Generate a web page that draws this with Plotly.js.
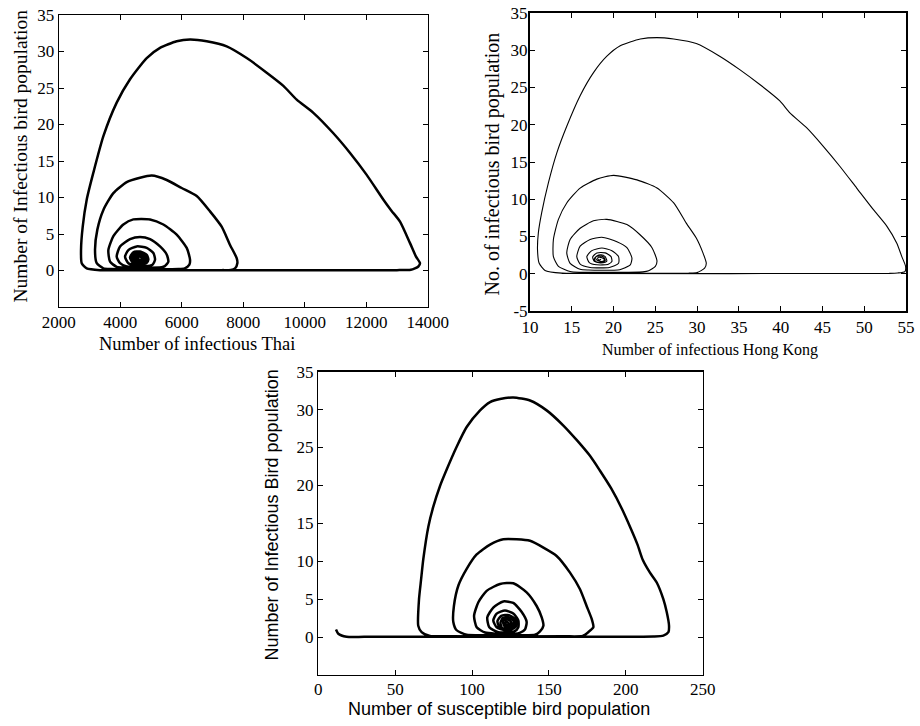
<!DOCTYPE html>
<html>
<head>
<meta charset="utf-8">
<script src="https://cdn.plot.ly/plotly-3.0.1.min.js"></script>
<style>html,body{margin:0;padding:0;background:#fff;}#chart{width:920px;height:726px;}</style>
</head>
<body>
<div id="chart"></div>
<script>
// ---- Data ----
// Panel 1: infectious Thai (x) vs infectious bird population (y)
var thaiX = [3300,3600,13000,13450,13697,13750,13620,13425,13100,12820,12560,12016,11475,10932,10282,9740,9306,8764,8114,7463,6813,6271,5837,5295,4862,4320,3886,3453,3127,2911,2781,2726,2748,2911,3344,3600,7300,7600,
  7734,7810,7788,7572,7300,6921,6488,6000,5512,5024,4645,4211,3778,3453,3257,3181,3236,3453,3700,5900,6100,
  6250,6271,6163,5837,5403,4970,4428,4103,3778,3615,3670,3886,4100,5350,5450,
  5566,5512,5295,4970,4645,4320,3995,3886,3995,4211,4400,5050,
  5133,5079,4862,4537,4266,4157,4266,4537,4850,
  4916,4862,4645,4428,4320,4400,4645,4780,
  4860,4800,4620,4440,4370,4430,4620,4760,
  4800,4740,4580,4460,4420,4480,4640,4740,
  4730,4680,4560,4490,4480,4540,4660,4700,4640,4560,4530,4580,4620];
var thaiY = [0.05,0.04,0.05,0.1,0.55,1.0,1.9,3.75,6.7,8.2,9.7,13.1,16.1,18.8,21.6,23.4,25.3,27.1,29.1,30.7,31.4,31.65,31.4,30.5,29.1,26.2,23.0,18.4,13.4,9.7,6.0,2.8,1.0,0.3,0.05,0.04,0.05,0.08,
  0.3,1.0,1.7,3.5,6.0,8.1,10.2,11.3,12.4,13.0,12.7,12.1,10.6,8.3,5.6,2.8,1.0,0.3,0.2,0.2,0.3,
  0.8,1.5,3.1,4.9,6.3,7.0,7.0,6.3,4.7,2.8,1.2,0.5,0.4,0.45,0.6,
  1.2,2.2,3.3,4.3,4.6,4.3,3.3,1.9,1.0,0.55,0.5,0.8,
  1.5,2.4,3.1,3.3,2.8,1.9,1.0,0.65,1.0,
  1.5,2.15,2.6,2.5,1.8,1.1,0.9,1.2,
  1.6,2.2,2.5,2.4,1.8,1.2,1.0,1.3,
  1.7,2.1,2.35,2.25,1.8,1.35,1.2,1.4,
  1.75,2.05,2.2,2.1,1.75,1.45,1.4,1.6,1.9,1.95,1.75,1.6,1.7];

// Panel 2: infectious Hong Kong (x) vs infectious bird population (y)
var hkX = [13.8,15.0,53.0,54.0,54.87,54.95,54.5,53.9,52.7,51.1,49.1,47.1,45.1,43.1,41.1,39.9,37.5,35.1,32.7,29.9,27.2,25.2,23.2,20.8,19.2,17.6,16.0,14.4,13.2,12.2,11.4,11.0,10.9,11.1,11.8,13.8,15.0,29.0,30.0,
  30.9,31.1,30.7,29.9,28.7,27.2,25.2,22.8,20.0,18.0,16.0,14.4,13.4,12.8,12.8,13.4,14.8,16.0,23.5,24.2,
  25.0,25.2,24.6,23.2,21.6,19.2,17.6,16.0,14.8,14.4,14.8,16.0,17.0,20.5,21.0,
  22.0,22.2,21.6,20.4,18.6,17.2,16.0,15.6,16.0,17.2,19.5,
  20.6,20.6,19.8,18.6,17.4,16.8,17.1,18.0,19.3,
  19.8,19.7,19.0,18.0,17.5,17.7,18.4,19.0,
  19.2,19.0,18.5,18.0,17.7,17.9,18.6,19.0,
  19.0,18.8,18.3,17.9,17.9,18.3,18.8,18.9,18.6,18.2,18.1,18.3,18.5];
var hkY = [0.05,0.04,0.05,0.1,0.3,1.0,2.3,4.1,6.4,8.6,11.5,14.4,17.1,19.6,21.6,23.2,25.4,27.4,29.2,30.9,31.5,31.7,31.5,30.6,29.2,27.0,23.9,19.8,16.2,12.2,8.2,5.5,3.2,1.4,0.45,0.08,0.06,0.08,0.15,
  0.75,1.4,2.8,4.8,6.8,9.5,11.5,12.6,13.2,12.7,11.5,9.5,7.3,4.6,2.3,1.0,0.3,0.2,0.25,0.4,
  1.0,1.7,3.5,5.2,6.6,7.3,7.1,6.1,4.6,2.8,1.4,0.6,0.5,0.5,0.65,
  1.2,2.1,3.5,4.3,4.9,4.6,3.7,2.3,1.3,0.85,0.85,
  1.4,2.3,3.1,3.45,3.1,2.3,1.5,1.2,1.25,
  1.65,2.3,2.8,2.8,2.25,1.65,1.45,1.55,
  1.7,2.3,2.55,2.4,2.0,1.6,1.55,1.75,
  1.85,2.25,2.4,2.3,1.95,1.7,1.7,1.9,2.15,2.2,2.0,1.85,1.95];

// Panel 3: susceptible bird population (x) vs infectious bird population (y)
var suscX = [11.5,13.0,18.4,30,205,218,224.4,227.7,228.1,226.6,224.4,220.1,215.7,211.0,207.6,203.5,197.5,190.5,183.0,176.7,168.0,159.4,148.5,137.7,126.8,118.2,111.7,105.2,96.5,90.0,83.5,79.1,74.8,71.6,68.3,66.8,65.5,65.0,67.2,72.6,85,160,172,
  175.6,178.9,177.8,174.5,170.2,163.7,155.0,146.4,137.7,129.0,120.3,111.7,103.0,96.5,91.1,88.2,87.8,90.0,96.5,105,135,141,
  144.2,146.4,145.3,142.0,135.5,126.8,118.2,109.5,104.1,101.3,103.0,108.4,115,128,131,
  134.4,135.5,132.3,126.8,120.3,113.8,109.9,111.2,117.1,127.5,
  130.1,130.1,126.8,121.4,116.0,113.8,116.0,121.4,125.5,
  128.5,128.3,124.0,119.0,116.5,118.0,122.0,126.0,
  127.0,126.8,123.5,120.0,118.5,119.5,123.0,125.5,
  125.8,125.0,122.8,120.8,120.3,121.5,123.8,124.8,123.5,122.0,121.8,122.8,123.6];
var suscY = [1.0,0.45,0.05,0.03,0.05,0.08,0.2,0.65,1.5,3.3,5.0,7.2,8.5,10.2,12.2,14.2,16.9,19.6,22.0,23.9,26.0,27.9,29.9,31.2,31.6,31.4,31.0,29.9,27.7,25.1,22.1,19.9,17.2,14.6,10.3,7.5,5.0,1.5,0.65,0.15,0.1,0.1,0.15,
  0.65,1.3,2.4,4.1,6.3,8.5,10.7,11.8,12.7,12.9,12.9,12.2,10.9,9.0,6.8,4.1,2.0,0.9,0.3,0.25,0.25,0.3,
  0.75,1.5,2.6,4.1,5.9,7.1,7.0,6.1,4.6,2.8,1.3,0.6,0.45,0.45,0.55,
  1.0,2.0,3.3,4.5,4.7,3.9,2.6,1.3,0.65,0.75,
  1.3,2.2,3.1,3.5,3.1,2.2,1.3,0.9,1.0,
  1.4,2.3,2.9,2.8,2.1,1.2,0.9,1.1,
  1.5,2.2,2.6,2.5,1.9,1.2,1.1,1.3,
  1.6,2.1,2.35,2.25,1.8,1.35,1.3,1.5,1.9,2.0,1.75,1.55,1.65];

var thaiTicks = [2000,4000,6000,8000,10000,12000,14000];
var hkTicks = [10,15,20,25,30,35,40,45,50,55];
var suscTicks = [0,50,100,150,200,250];
var birdTicks = [0,5,10,15,20,25,30,35];
var birdTicksHK = [-5,0,5,10,15,20,25,30,35];

// ---- Drawing ----
var W = 920, H = 726;
function dx(a,b){ return [a/W, b/W]; }
function dy(top,bottom){ return [1-bottom/H, 1-top/H]; }
var serif = 'Liberation Serif';
var sans = 'Liberation Sans';

function trace(xs, ys, xa, ya, w){
  return {x: xs, y: ys, xaxis: xa, yaxis: ya, type:'scatter', mode:'lines',
    line:{color:'#000', width:w, shape:'spline', smoothing:0.6}, hoverinfo:'skip', cliponaxis:true};
}
var traces = [
  trace(thaiX, thaiY, 'x', 'y', 2.5),
  trace(hkX, hkY, 'x2', 'y2', 1.1),
  trace(suscX, suscY, 'x3', 'y3', 2.5)
];

function ax(domain, range, ticks, lw, extra){
  var o = {domain: domain, range: range, tickmode:'array', tickvals: ticks, ticktext: ticks.map(String),
    showgrid:false, zeroline:false, showline:true, mirror:'ticks', linecolor:'#000', linewidth:lw,
    ticks:'inside', ticklen:5, tickwidth:1, tickcolor:'#000',
    tickfont:{family: serif, size:17, color:'#000'}, fixedrange:true};
  for (var k in extra) o[k] = extra[k];
  return o;
}

var layout = {
  width: W, height: H, margin:{l:0,r:0,t:0,b:0},
  font:{family: serif, size:17, color:'#000'},
  paper_bgcolor:'#fff', plot_bgcolor:'#fff', showlegend:false,
  xaxis:  ax(dx(58.7,427.7), [2000,14000], thaiTicks, 1, {anchor:'y'}),
  yaxis:  ax(dy(15,307), [-5,35], birdTicks, 1, {anchor:'x'}),
  xaxis2: ax(dx(530,906), [10,55], hkTicks, 2, {anchor:'y2'}),
  yaxis2: ax(dy(13,311), [-5,35], birdTicksHK, 2, {anchor:'x2', ticklabelstandoff:-3}),
  xaxis3: ax(dx(318.3,702.7), [0,250], suscTicks, 1.3, {anchor:'y3', ticklabelstandoff:-2}),
  yaxis3: ax(dy(371.7,675), [-5,35], birdTicks, 1.3, {anchor:'x3'}),
  annotations: [
    {text:'Number of Infectious bird population', xref:'paper', yref:'paper', x:20/W, y:1-156.5/H,
     textangle:-90, showarrow:false, xanchor:'center', yanchor:'middle', font:{family:serif, size:19.5, color:'#000'}},
    {text:'Number of infectious Thai', xref:'paper', yref:'paper', x:197/W, y:1-344/H,
     showarrow:false, xanchor:'center', yanchor:'middle', font:{family:serif, size:18.5, color:'#000'}},
    {text:'No. of infectious bird population', xref:'paper', yref:'paper', x:492/W, y:1-164.5/H,
     textangle:-90, showarrow:false, xanchor:'center', yanchor:'middle', font:{family:serif, size:20, color:'#000'}},
    {text:'Number of infectious Hong Kong', xref:'paper', yref:'paper', x:600/W, y:1-350/H,
     showarrow:false, xanchor:'left', yanchor:'middle', font:{family:serif, size:16, color:'#000'}},
    {text:'Number of Infectious Bird population', xref:'paper', yref:'paper', x:271.5/W, y:1-515/H,
     textangle:-90, showarrow:false, xanchor:'center', yanchor:'middle', font:{family:sans, size:18, color:'#000'}},
    {text:'Number of susceptible bird population', xref:'paper', yref:'paper', x:499/W, y:1-709/H,
     showarrow:false, xanchor:'center', yanchor:'middle', font:{family:sans, size:18, color:'#000'}}
  ]
};

Plotly.newPlot('chart', traces, layout, {displayModeBar:false, staticPlot:true});
</script>
</body>
</html>
